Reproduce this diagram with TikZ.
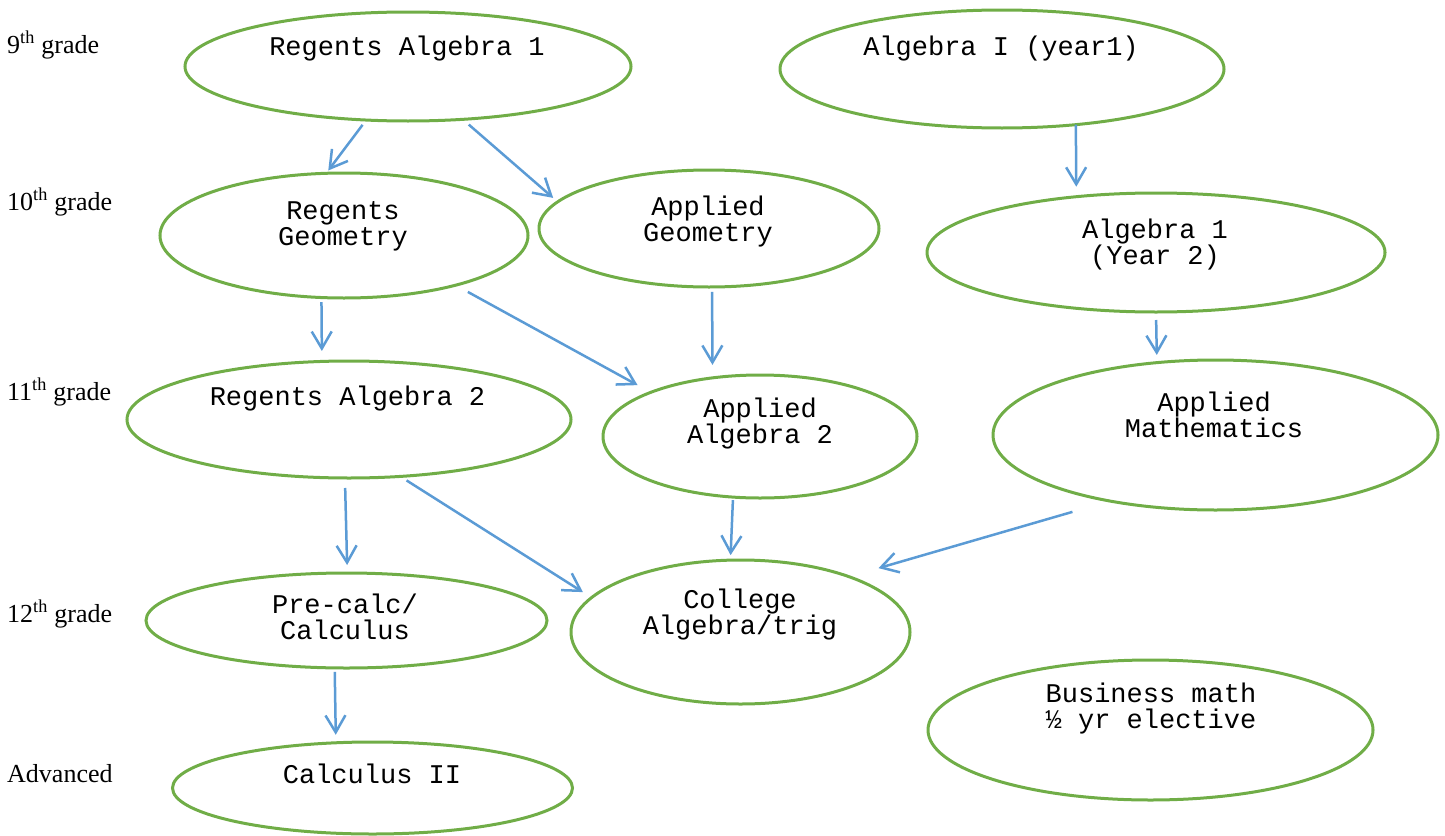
\documentclass[tikz,border=0pt]{standalone}
\usepackage{fontspec}
\setmainfont{Liberation Serif}
\newfontfamily\coursefont{Liberation Mono}
\usetikzlibrary{shapes.geometric,arrows.meta}

\definecolor{coursegreen}{HTML}{70AD47}
\definecolor{flowblue}{HTML}{5B9BD5}

\begin{document}
\begin{tikzpicture}[x=1pt,y=-1pt,>={Straight Barb[length=17pt,width=20pt]}]

        \useasboundingbox (0,0) rectangle (1445,835);

        % grades
        \begin{scope}[every node/.style={anchor=base west,inner sep=0pt,font=\fontsize{26}{30}\selectfont}]
          \node (g9)   at (7,53)  {9\textsuperscript{th} grade};
          \node (g10)  at (7,210) {10\textsuperscript{th} grade};
          \node (g11)  at (7,400) {11\textsuperscript{th} grade};
          \node (g12)  at (7,622) {12\textsuperscript{th} grade};
          \node (gadv) at (7,782) {Advanced};
        \end{scope}

        % courses
        \begin{scope}[every node/.style={ellipse,draw=coursegreen,line width=3pt,inner sep=0pt,outer sep=0pt}]
          \node[minimum width=446pt,minimum height=109pt] (ra1)     at (408,66.5)   {};
          \node[minimum width=444pt,minimum height=118pt] (alg1)    at (1002,69)    {};
          \node[minimum width=368pt,minimum height=125pt] (rgeo)    at (344,235.5)  {};
          \node[minimum width=340pt,minimum height=117pt] (ageo)    at (709,228.5)  {};
          \node[minimum width=458pt,minimum height=119pt] (alg2)    at (1156,252.5) {};
          \node[minimum width=444pt,minimum height=117pt] (ra2)     at (349,419.5)  {};
          \node[minimum width=314pt,minimum height=123pt] (aa2)     at (760,436.5)  {};
          \node[minimum width=445pt,minimum height=150pt] (amath)   at (1215.5,435) {};
          \node[minimum width=401pt,minimum height=95pt]  (precalc) at (346.5,620.5) {};
          \node[minimum width=339pt,minimum height=144pt] (college) at (740.5,632)  {};
          \node[minimum width=445pt,minimum height=140pt] (busmath) at (1150.5,730) {};
          \node[minimum width=400pt,minimum height=92pt]  (calc2)   at (372.5,788)  {};
        \end{scope}

        % course names (base = last line)
        \begin{scope}[every node/.style={anchor=base,align=center,inner sep=0pt,font=\coursefont\fontsize{27}{26.5}\selectfont}]
          \node (ra1t)     at (407,55)    {Regents Algebra 1};
          \node (alg1t)    at (1001,55)   {Algebra I (year1)};
          \node (rgeot)    at (343,245.5) {Regents\\Geometry};
          \node (ageot)    at (708,241.5) {Applied\\Geometry};
          \node (alg2t)    at (1155,264.5) {Algebra 1\\(Year 2)};
          \node (ra2t)     at (347.5,405) {Regents Algebra 2};
          \node (aa2t)     at (760,443.5) {Applied\\Algebra 2};
          \node (amatht)   at (1214,437.5) {Applied\\Mathematics};
          \node (precalct) at (345,639.5) {Pre-calc/\\Calculus};
          \node (colleget) at (740,634.5) {College\\Algebra/trig};
          \node (busmatht) at (1151,728.5) {Business math\\½ yr elective};
          \node (calc2t)   at (372,783)   {Calculus II};
        \end{scope}

        \begin{scope}[every edge/.style={draw=flowblue,line width=2.5pt,->}]
          \path (ra1.232)     edge[shorten <=6pt,shorten >=3.5pt]   (rgeo.106);
          \path (ra1.316)     edge[shorten <=8pt,shorten >=6pt]     (ageo.170);
          \path (alg1.323)    edge[shorten >=10pt]                  (alg2.145);
          \path (rgeo.250)    edge[shorten <=4.5pt,shorten >=10.5pt] (ra2.115);
          \path (rgeo.336)    edge[shorten <=14pt,shorten >=15pt]   (aa2.158);
          \path (ageo.273)    edge[shorten <=5pt,shorten >=13pt]    (aa2.129);
          \path (alg2.270)    edge[shorten <=8pt,shorten >=7.7pt]   (amath.129);
          \path (ra2.266)     edge[shorten <=10pt,shorten >=8pt]    (precalc.89);
          \path (ra2.312)     edge[shorten <=7.5pt,shorten >=10.3pt] (college.167);
          \path (aa2.246)     edge[shorten <=3pt,shorten >=5pt]     (college.98);
          \path (amath.212)   edge[shorten <=39pt,shorten >=30.7pt] (college.27);
          \path (precalc.256) edge[shorten <=4pt,shorten >=8pt]     (calc2.129);
        \end{scope}

      \end{tikzpicture}
\end{document}
